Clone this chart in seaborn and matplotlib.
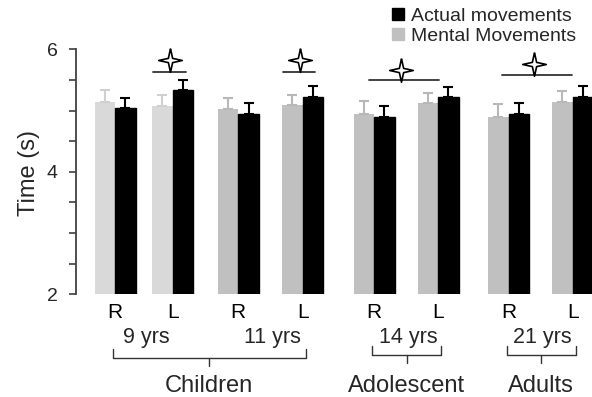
import matplotlib

matplotlib.use("Agg")
import matplotlib.pyplot as plt  # noqa: E402
import matplotlib.transforms as mtransforms  # noqa: E402
import numpy as np  # noqa: E402
import pandas as pd  # noqa: E402
import seaborn as sns  # noqa: E402
from matplotlib.lines import Line2D  # noqa: E402
from matplotlib.path import Path  # noqa: E402

# conditions: age group x hand
ages = ["9 yrs", "9 yrs", "11 yrs", "11 yrs", "14 yrs", "14 yrs", "21 yrs", "21 yrs"]
hands = ["R", "L", "R", "L", "R", "L", "R", "L"]
mental_time = [5.14, 5.07, 5.02, 5.09, 4.95, 5.12, 4.90, 5.14]
mental_err = [0.20, 0.18, 0.19, 0.17, 0.20, 0.16, 0.20, 0.18]
actual_time = [5.04, 5.33, 4.94, 5.22, 4.90, 5.22, 4.95, 5.22]
actual_err = [0.17, 0.17, 0.18, 0.18, 0.18, 0.16, 0.18, 0.18]

# layout: x position of each R/L pair (axis units ~ pixels)
cond_pos = [39, 96.7, 162.3, 226.7, 298, 362, 432.7, 496.7]

sns.set_theme(style="white")
plt.rcParams["font.family"] = ["Liberation Sans", "DejaVu Sans"]

W, H = 592, 397
fig = plt.figure(figsize=(W / 100, H / 100), dpi=100)
ax = fig.add_axes([76 / W, 1 - 294.3 / H, 516 / W, 245 / H])

df = pd.DataFrame({
    "pos": cond_pos * 2,
    "time": mental_time + actual_time,
    "movement": ["Mental"] * 8 + ["Actual"] * 8,
})
pair_w = 41 / (cond_pos[1] - cond_pos[0])
sns.barplot(data=df, x="pos", y="time", hue="movement",
            hue_order=["Mental", "Actual"], native_scale=True, width=pair_w,
            palette={"Mental": "#c0c0c0", "Actual": "black"},
            errorbar=None, legend=False, ax=ax, linewidth=0, saturation=1)

bw = 41 / 2
# lighter grey for the 9 yrs mental bars, black edge for actual bars
for p in ax.patches:
    cx = p.get_x() + p.get_width() / 2
    fc = p.get_facecolor()
    if fc[0] > 0.5 and cx < cond_pos[2] - 30:
        p.set_facecolor("#d9d9d9")
    if fc[0] < 0.5:
        p.set_edgecolor("black")
        p.set_linewidth(1)

mx = np.array(cond_pos) - bw / 2
axx = np.array(cond_pos) + bw / 2
mental_err_col = ["#d0d0d0" if a == "9 yrs" else "#b8b8b8" for a in ages]
for x, y, e, c in zip(mx, mental_time, mental_err, mental_err_col):
    ax.errorbar(x, y, yerr=[[0], [e]], fmt="none", ecolor=c, elinewidth=1.5,
                capsize=3.5, capthick=1.5, zorder=1)
ax.errorbar(axx, actual_time, yerr=[np.zeros(8), actual_err], fmt="none",
            ecolor="black", elinewidth=1.5, capsize=3.5, capthick=1.5, zorder=1)

ax.set_xlim(0, 516)
ax.set_ylim(2, 6)
ax.set_xticks(cond_pos)
ax.set_xticklabels(hands, fontsize=15)
ax.tick_params(axis="x", length=0, pad=6, colors="black")
yt = np.arange(2, 6.01, 0.5)
ax.set_yticks(yt)
ax.set_yticklabels([f"{v:g}" if v in (2, 4, 6) else "" for v in yt], fontsize=14)
ax.tick_params(axis="y", length=5, width=1.2, color="#404040", pad=8, left=True)
for s in ("top", "right", "bottom"):
    ax.spines[s].set_visible(False)
ax.spines["left"].set_color("#404040")
ax.spines["left"].set_linewidth(1.3)
ax.set_xlabel("")
ax.set_ylabel("")

# image-pixel transform (y from top)
img = mtransforms.Affine2D().scale(1 / W, -1 / H).translate(0, 1) + fig.transFigure
xdata_img = mtransforms.blended_transform_factory(ax.transData, img)

fig.text(29, 173, "Time (s)", transform=img, rotation=90, ha="center",
         va="center", fontsize=17)

# significance markers
star = Path([(0, 1), (0.18, 0.18), (1, 0), (0.18, -0.18), (0, -1),
             (-0.18, -0.18), (-1, 0), (-0.18, 0.18), (0, 1)])
sig = [  # (x0, x1, line y, star x, star y)
    (cond_pos[1] - 19.7, cond_pos[1] + 13, 5.634, cond_pos[1] - 2.7, 5.83),
    (cond_pos[3] - 19.4, cond_pos[3] + 12.3, 5.634, cond_pos[3] - 2.7, 5.83),
    (cond_pos[4] - 4.7, cond_pos[5] + 1.3, 5.50, (cond_pos[4] + cond_pos[5]) / 2 - 5, 5.67),
    (cond_pos[6] - 6.7, cond_pos[7] - 0.7, 5.58, (cond_pos[6] + cond_pos[7]) / 2 - 7, 5.76),
]
for x0, x1, ly, sx, sy in sig:
    ax.plot([x0, x1], [ly, ly], color="#333333", lw=1.3, clip_on=False)
    ax.plot(sx, sy, marker=star, ms=17, mfc="white", mec="black", mew=1.2,
            clip_on=False, ls="")

# age labels and braces
for i in range(0, 8, 2):
    mid = (cond_pos[i] + cond_pos[i + 1]) / 2 + 2
    ax.text(mid, 338, ages[i], transform=xdata_img, ha="center", va="center",
            fontsize=15.5)

braces = [  # (left pos, right pos, label, y)
    (cond_pos[0], cond_pos[3], "Children", 358),
    (cond_pos[4], cond_pos[5], "Adolescent", 355),
    (cond_pos[6], cond_pos[7], "Adults", 355),
]
for l, r, lab, by in braces:
    l, r = l - 2, r + 3
    m = (l + r) / 2
    ax.plot([l, l, r, r], [by - 9, by, by, by - 9], transform=xdata_img,
            color="#333333", lw=1, clip_on=False)
    ax.plot([m, m], [by, by + 8], transform=xdata_img, color="#333333", lw=1,
            clip_on=False)
    ax.text(m, 386, lab, transform=xdata_img, ha="center", va="center",
            fontsize=17)

handles = [
    Line2D([], [], marker="s", ls="", color="black", ms=8),
    Line2D([], [], marker="s", ls="", color="#c0c0c0", ms=8),
]
fig.legend(handles, ["Actual movements", "Mental Movements"], loc="upper left",
           bbox_to_anchor=(392 / W, 1 - 7 / H), frameon=False, fontsize=14,
           handlelength=0.6, handletextpad=0.4, labelspacing=0.15,
           borderpad=0, borderaxespad=0)

fig.savefig("out.png", dpi=100)
